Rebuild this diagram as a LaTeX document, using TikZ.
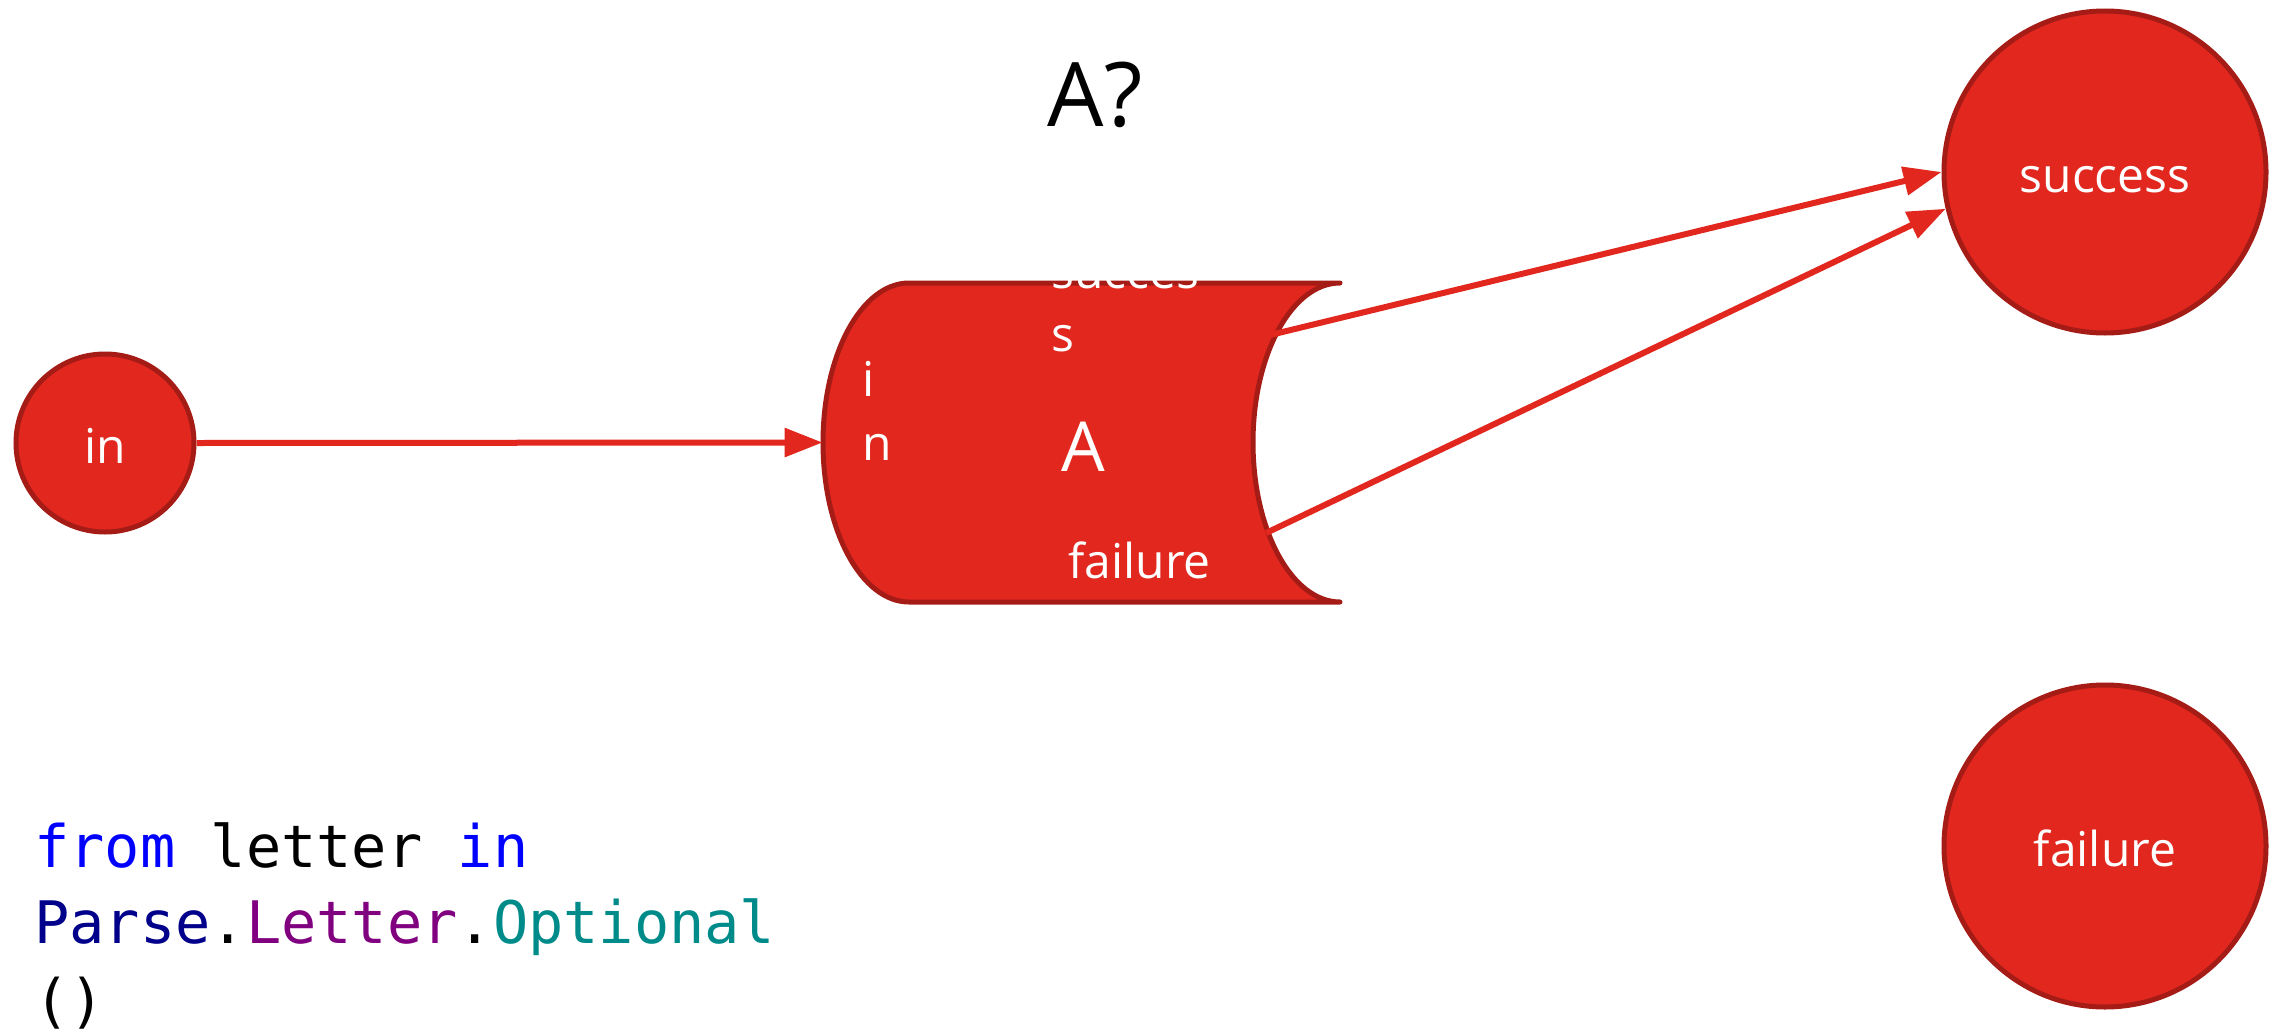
\documentclass[tikz,border=0pt]{standalone}
\usepackage{fontspec}
\setmainfont{Open Sans}
\setmonofont{DejaVu Sans Mono}
\usetikzlibrary{arrows.meta}
\definecolor{nodered}{HTML}{E2271F}
\definecolor{noderim}{HTML}{A51B16}
\definecolor{kwblue}{RGB}{0,0,255}
\definecolor{typenavy}{RGB}{0,0,139}
\definecolor{membpurple}{RGB}{128,0,128}
\definecolor{methteal}{RGB}{0,139,139}

\begin{document}
\begin{tikzpicture}[x=0.5pt,y=0.5pt,
  state/.style={circle, fill=nodered, draw=noderim, line width=2.5pt,
    minimum size=#1, inner sep=0pt, text=white,
    text height=20pt, text depth=0pt,
    font=\fontsize{24}{30}\selectfont},
  lbl/.style={inner sep=0pt, text=white, font=\fontsize{24}{30}\selectfont},
  conn/.style={draw=nodered, line width=3pt,
    -{Triangle[length=19pt,width=14pt]}},
  code/.style={inner sep=0pt, font=\ttfamily\fontsize{29.3}{38}\selectfont},
  body/.style={fill=nodered, draw=noderim, line width=2.5pt,
    line cap=round, line join=round}
]
% canvas
\fill[white] (0,0) rectangle (2280,-1033);
\useasboundingbox (0,0) rectangle (2280,-1033);

% heading
\node[inner sep=0pt, anchor=base, font=\fontsize{44.5}{50}\selectfont]
  (ttl) at (1095,-126) {A?};

% states
\node[state=89pt]  (in)   at (105,-443)  {in};
\node[state=161pt] (succ) at (2105,-172) {success};
\node[state=161pt] (fail) at (2105,-846) {failure};

% parser body: convex left end, open concave right end
\path[body] (909,-283) -- (1340,-283)
  arc[start angle=90, end angle=270, x radius=87, y radius=159.5]
  -- (909,-602)
  arc[start angle=270, end angle=90, x radius=86, y radius=159.5]
  -- cycle;
\node[minimum width=258.5pt, minimum height=159.5pt, inner sep=0pt]
  (A) at (1081.5,-442.5) {};
\node[inner sep=0pt, anchor=base, text=white,
  font=\fontsize{34.5}{40}\selectfont] (Alabel) at (1083,-471) {A};

% ports of the parser body
\coordinate (A-s) at (1266,-336);
\coordinate (A-f) at (1266,-533);

% port labels
\node[lbl, anchor=base west] (ps1) at (1051,-288) {succes};
\node[lbl, anchor=base west] (ps2) at (1051,-351) {s};
\node[lbl, anchor=base west] (pi1) at (862,-396) {i};
\node[lbl, anchor=base west] (pi2) at (862,-460) {n};
\node[lbl, anchor=base west] (pf)  at (1068,-578) {failure};

% connectors
\draw[conn] (in.east) -- (A.west);
\draw[conn] (A-s) -- (succ.180);
\draw[conn] (A-f) -- (succ.193);

% query source
\node[code, anchor=base west] (c1) at (34,-867)
  {\textcolor{kwblue}{from} letter \textcolor{kwblue}{in}};
\node[code, anchor=base west] (c2) at (34,-943)
  {\textcolor{typenavy}{Parse}.\textcolor{membpurple}{Letter}.\textcolor{methteal}{Optional}};
\node[code, anchor=base west] (c3) at (34,-1021) {()};
\end{tikzpicture}
\end{document}
